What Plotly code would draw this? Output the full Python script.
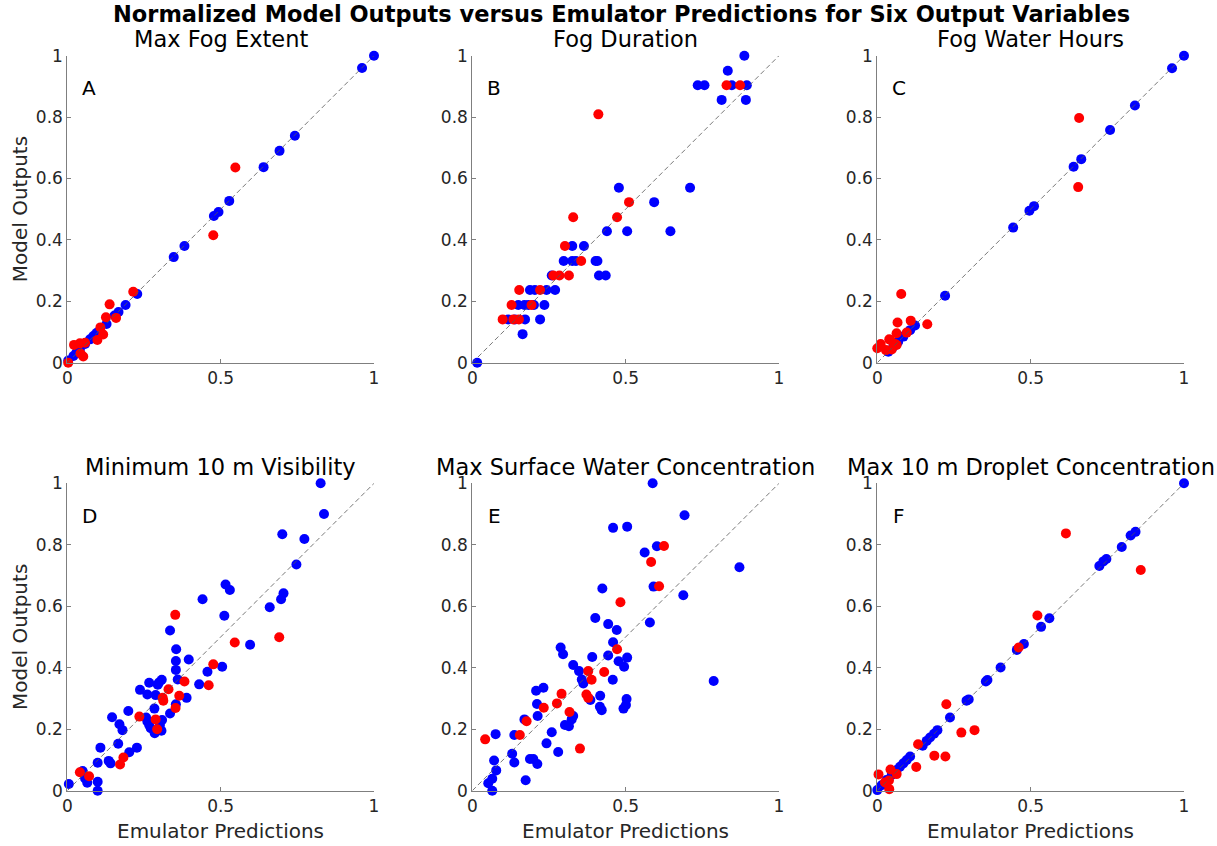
import plotly.graph_objects as go

# ---------------- data (emulator prediction, model output) ----------------
titles = ["Max Fog Extent", "Fog Duration", "Fog Water Hours",
          "Minimum 10 m Visibility", "Max Surface Water Concentration",
          "Max 10 m Droplet Concentration"]
letters = ["A", "B", "C", "D", "E", "F"]
x_ticks = [0, 0.5, 1]
x_tick_labels = ["0", "0.5", "1"]
y_ticks = [0, 0.2, 0.4, 0.6, 0.8, 1]
y_tick_labels = ["0", "0.2", "0.4", "0.6", "0.8", "1"]

A_blue_x = [1.0, 0.961, 0.742, 0.692, 0.640, 0.528, 0.493, 0.478, 0.382, 0.347, 0.228, 0.190, 0.167, 0.154, 0.128, 0.107, 0.085, 0.074, 0.058, 0.041, 0.020, 0.003, 0.095, 0.030]
A_blue_y = [1.0, 0.960, 0.739, 0.690, 0.637, 0.527, 0.491, 0.478, 0.380, 0.344, 0.224, 0.188, 0.165, 0.154, 0.126, 0.106, 0.087, 0.076, 0.061, 0.043, 0.022, 0.007, 0.097, 0.033]
A_red_x = [0.548, 0.476, 0.215, 0.138, 0.126, 0.159, 0.108, 0.117, 0.098, 0.022, 0.041, 0.058, 0.043, 0.052, 0.003]
A_red_y = [0.636, 0.415, 0.231, 0.190, 0.148, 0.146, 0.115, 0.092, 0.074, 0.058, 0.063, 0.065, 0.030, 0.020, 0.000]

B_blue_x = [0.887, 0.833, 0.735, 0.757, 0.846, 0.895, 0.813, 0.892, 0.478, 0.710, 0.593, 0.439, 0.505, 0.646,
            0.326, 0.364, 0.298, 0.326, 0.338, 0.402, 0.408, 0.259, 0.413, 0.435,
            0.188, 0.204, 0.242, 0.270, 0.150, 0.170, 0.183, 0.201, 0.235, 0.117, 0.139, 0.172, 0.221, 0.164, 0.016]
B_blue_y = [1.000, 0.951, 0.904, 0.904, 0.904, 0.904, 0.856, 0.856, 0.570, 0.570, 0.523, 0.428, 0.428, 0.428,
            0.380, 0.380, 0.331, 0.331, 0.331, 0.331, 0.331, 0.284, 0.284, 0.284,
            0.237, 0.237, 0.237, 0.237, 0.188, 0.188, 0.188, 0.188, 0.188, 0.141, 0.141, 0.141, 0.141, 0.093, 0.000]
B_red_x = [0.411, 0.829, 0.873, 0.511, 0.472, 0.329, 0.302, 0.355, 0.264, 0.284, 0.315, 0.153, 0.221, 0.128, 0.193, 0.099, 0.134, 0.152]
B_red_y = [0.809, 0.904, 0.904, 0.523, 0.474, 0.474, 0.380, 0.331, 0.284, 0.284, 0.284, 0.237, 0.237, 0.188, 0.188, 0.141, 0.141, 0.141]

C_blue_x = [1.0, 0.961, 0.840, 0.759, 0.665, 0.640, 0.511, 0.496, 0.443, 0.221, 0.123, 0.107, 0.085, 0.068, 0.052, 0.036]
C_blue_y = [1.0, 0.959, 0.838, 0.758, 0.663, 0.638, 0.510, 0.495, 0.440, 0.218, 0.121, 0.106, 0.085, 0.068, 0.052, 0.036]
C_red_x = [0.658, 0.655, 0.078, 0.066, 0.109, 0.163, 0.063, 0.096, 0.039, 0.011, 0.000, 0.028, 0.047, 0.058, 0.043, 0.063]
C_red_y = [0.797, 0.572, 0.224, 0.131, 0.137, 0.125, 0.096, 0.098, 0.076, 0.061, 0.047, 0.041, 0.043, 0.061, 0.074, 0.058]

D_blue_x = [0.826, 0.837, 0.701, 0.773, 0.747, 0.516, 0.530, 0.441, 0.705, 0.697, 0.660, 0.512, 0.335, 0.596,
            0.355, 0.354, 0.396, 0.354, 0.505, 0.457, 0.360, 0.308, 0.299, 0.267, 0.295, 0.237, 0.261, 0.288,
            0.430, 0.389, 0.354, 0.284, 0.199, 0.335, 0.146, 0.257, 0.261, 0.309, 0.302, 0.272, 0.285, 0.307,
            0.267, 0.170, 0.180, 0.227, 0.202, 0.166, 0.108, 0.099, 0.135, 0.141, 0.050, 0.058, 0.065, 0.099,
            0.005, 0.099]
D_blue_y = [1.000, 0.900, 0.834, 0.819, 0.736, 0.671, 0.653, 0.623, 0.642, 0.623, 0.597, 0.569, 0.521, 0.475,
            0.460, 0.422, 0.427, 0.393, 0.403, 0.387, 0.362, 0.361, 0.352, 0.351, 0.345, 0.328, 0.313, 0.311,
            0.346, 0.302, 0.281, 0.267, 0.259, 0.251, 0.239, 0.238, 0.225, 0.230, 0.214, 0.203, 0.187, 0.195,
            0.214, 0.216, 0.197, 0.140, 0.125, 0.153, 0.140, 0.091, 0.097, 0.089, 0.064, 0.040, 0.026, 0.029,
            0.022, 0.000]
D_red_x = [0.352, 0.546, 0.691, 0.476, 0.382, 0.461, 0.330, 0.365, 0.311, 0.313, 0.353, 0.235, 0.288, 0.293, 0.183, 0.172, 0.041, 0.071]
D_red_y = [0.572, 0.482, 0.499, 0.411, 0.355, 0.343, 0.330, 0.309, 0.302, 0.293, 0.269, 0.241, 0.232, 0.200, 0.108, 0.085, 0.060, 0.047]

E_blue_x = [0.588, 0.692, 0.459, 0.505, 0.562, 0.602, 0.871, 0.424, 0.591, 0.688, 0.401, 0.443, 0.579, 0.471,
            0.459, 0.288, 0.296, 0.391, 0.443, 0.505, 0.477, 0.495, 0.329, 0.348, 0.357, 0.362, 0.458, 0.787,
            0.208, 0.232, 0.417, 0.385, 0.503, 0.501, 0.493, 0.416, 0.422, 0.211, 0.213, 0.329, 0.324, 0.170,
            0.302, 0.315, 0.259, 0.137, 0.076, 0.242, 0.280, 0.130, 0.137, 0.188, 0.199, 0.212, 0.071, 0.078,
            0.174, 0.065, 0.052, 0.065]
E_blue_y = [1.000, 0.896, 0.855, 0.859, 0.775, 0.795, 0.727, 0.658, 0.664, 0.636, 0.562, 0.542, 0.547, 0.523,
            0.483, 0.466, 0.444, 0.435, 0.440, 0.433, 0.421, 0.403, 0.409, 0.389, 0.362, 0.349, 0.361, 0.357,
            0.325, 0.335, 0.309, 0.295, 0.298, 0.279, 0.267, 0.273, 0.262, 0.282, 0.243, 0.243, 0.232, 0.232,
            0.214, 0.210, 0.190, 0.181, 0.184, 0.154, 0.126, 0.120, 0.092, 0.103, 0.103, 0.087, 0.098, 0.066,
            0.034, 0.039, 0.024, 0.000]
E_red_x = [0.625, 0.583, 0.609, 0.483, 0.472, 0.378, 0.389, 0.430, 0.291, 0.372, 0.378, 0.276, 0.233, 0.317, 0.177, 0.155, 0.042, 0.351]
E_red_y = [0.796, 0.744, 0.665, 0.613, 0.460, 0.389, 0.361, 0.386, 0.315, 0.313, 0.302, 0.284, 0.270, 0.256, 0.226, 0.181, 0.167, 0.137]

F_blue_x = [1.0, 0.842, 0.826, 0.797, 0.747, 0.737, 0.724, 0.561, 0.534, 0.478, 0.455, 0.402, 0.359, 0.354, 0.298, 0.291,
            0.237, 0.196, 0.185, 0.172, 0.161, 0.148, 0.107, 0.096, 0.085, 0.074, 0.063, 0.047, 0.030, 0.014, 0.000]
F_blue_y = [1.0, 0.842, 0.830, 0.793, 0.754, 0.746, 0.731, 0.561, 0.533, 0.477, 0.458, 0.401, 0.360, 0.355, 0.297, 0.293,
            0.238, 0.197, 0.185, 0.173, 0.162, 0.146, 0.111, 0.100, 0.089, 0.078, 0.067, 0.051, 0.035, 0.018, 0.002]
F_red_x = [0.615, 0.859, 0.522, 0.461, 0.225, 0.274, 0.317, 0.133, 0.186, 0.222, 0.127, 0.004, 0.043, 0.063, 0.038, 0.025, 0.039]
F_red_y = [0.837, 0.718, 0.570, 0.466, 0.281, 0.189, 0.197, 0.151, 0.114, 0.111, 0.077, 0.053, 0.069, 0.054, 0.033, 0.027, 0.005]

panels = [
    (A_blue_x, A_blue_y, A_red_x, A_red_y),
    (B_blue_x, B_blue_y, B_red_x, B_red_y),
    (C_blue_x, C_blue_y, C_red_x, C_red_y),
    (D_blue_x, D_blue_y, D_red_x, D_red_y),
    (E_blue_x, E_blue_y, E_red_x, E_red_y),
    (F_blue_x, F_blue_y, F_red_x, F_red_y),
]
diag = [0, 1]

# ---------------- layout geometry ----------------
W, H = 1217, 846
col_px = [(67.3, 374.0), (472.3, 779.0), (877.3, 1184.0)]
row_px = [(55.7, 362.7), (483.3, 790.7)]  # top px, bottom px

FONT = "DejaVu Sans"
AX_COLOR = "#7f7f7f"
TXT_COLOR = "#262626"

fig = go.Figure()
layout = dict(
    width=W, height=H, margin=dict(l=0, r=0, t=0, b=0, pad=0, autoexpand=False),
    paper_bgcolor="white", plot_bgcolor="white", showlegend=False,
    font=dict(family=FONT, size=17, color=TXT_COLOR),
)
annotations = []

for i, (bx, by, rx, ry) in enumerate(panels):
    r, c = divmod(i, 3)
    x0, x1 = col_px[c]
    yt, yb = row_px[r]
    xdom = [x0 / W, x1 / W]
    ydom = [1 - yb / H, 1 - yt / H]
    n = i + 1
    xa = "x" if n == 1 else f"x{n}"
    ya = "y" if n == 1 else f"y{n}"
    common = dict(range=[0, 1], showgrid=False, zeroline=False, showline=True,
                  linecolor=AX_COLOR, linewidth=1, ticks="inside", ticklen=4,
                  tickcolor=AX_COLOR, tickfont=dict(family=FONT, size=17, color=TXT_COLOR),
                  mirror=False, fixedrange=True, automargin=False)
    layout["xaxis" if n == 1 else f"xaxis{n}"] = dict(
        common, domain=xdom, anchor=ya, tickvals=x_ticks, ticktext=x_tick_labels)
    layout["yaxis" if n == 1 else f"yaxis{n}"] = dict(
        common, domain=ydom, anchor=xa, tickvals=y_ticks, ticktext=y_tick_labels)

    fig.add_trace(go.Scatter(x=bx, y=by, mode="markers", xaxis=xa, yaxis=ya,
                             marker=dict(color="#0000ff", size=10, line=dict(width=0)),
                             cliponaxis=False))
    fig.add_trace(go.Scatter(x=rx, y=ry, mode="markers", xaxis=xa, yaxis=ya,
                             marker=dict(color="#ff0000", size=10, line=dict(width=0)),
                             cliponaxis=False))
    fig.add_trace(go.Scatter(x=diag, y=diag, mode="lines", xaxis=xa, yaxis=ya,
                             line=dict(color="#555555", width=0.8, dash="5px,3px"),
                             hoverinfo="skip"))

    # panel title
    title_y = (yt - 16.5)
    annotations.append(dict(text=titles[i], x=(x0 + x1) / 2 / W, y=1 - title_y / H,
                            xref="paper", yref="paper", showarrow=False,
                            xanchor="center", yanchor="middle",
                            font=dict(family=FONT, size=22.5, color="black")))
    # panel letter
    annotations.append(dict(text=letters[i], x=0.071, y=0.895, xref=f"{xa} domain",
                            yref=f"{ya} domain", showarrow=False, xanchor="center",
                            yanchor="middle", font=dict(family=FONT, size=20, color="black")))
    if c == 0:
        annotations.append(dict(text="Model Outputs", x=20 / W, y=1 - (yt + yb) / 2 / H,
                                xref="paper", yref="paper", showarrow=False, textangle=-90,
                                xanchor="center", yanchor="middle",
                                font=dict(family=FONT, size=20, color=TXT_COLOR)))
    if r == 1:
        annotations.append(dict(text="Emulator Predictions", x=(x0 + x1) / 2 / W, y=1 - 831 / H,
                                xref="paper", yref="paper", showarrow=False,
                                xanchor="center", yanchor="middle",
                                font=dict(family=FONT, size=20, color=TXT_COLOR)))

annotations.append(dict(text="<b>Normalized Model Outputs versus Emulator Predictions for Six Output Variables</b>",
                        x=621 / W, y=1 - 14 / H, xref="paper", yref="paper", showarrow=False,
                        xanchor="center", yanchor="middle",
                        font=dict(family=FONT, size=22.5, color="black")))
layout["annotations"] = annotations
fig.update_layout(**layout)
fig.write_html("out.html", config={"displayModeBar": False},
               post_script="document.body.style.margin='0';document.body.style.overflow='hidden';")
